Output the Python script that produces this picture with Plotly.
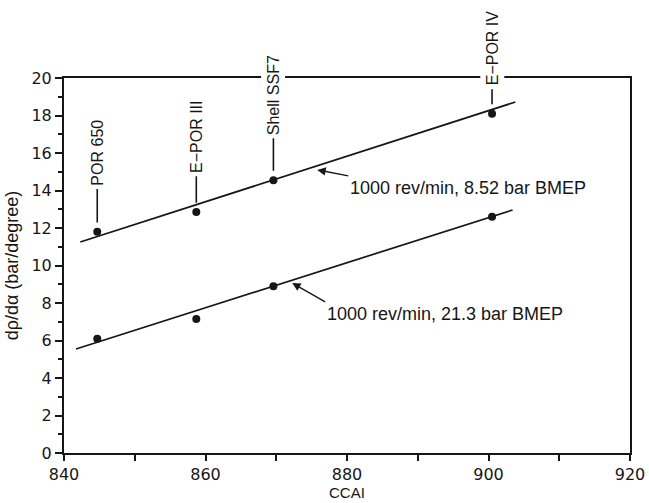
import plotly.graph_objects as go

# Fuel samples plotted against their CCAI value
fuels = ["POR 650", "E−POR III", "Shell SSF7", "E−POR IV"]
ccai = [844.7, 858.7, 869.6, 900.5]

# Peak pressure-rise rate, dp/dα (bar/degree), at the two load points
rate_852 = [11.8, 12.85, 14.55, 18.1]   # 1000 rev/min, 8.52 bar BMEP
rate_213 = [6.1, 7.15, 8.9, 12.6]       # 1000 rev/min, 21.3 bar BMEP

# End points of the fitted straight lines
fit_852_x = [842.3, 903.8]
fit_852_y = [11.25, 18.72]
fit_213_x = [841.7, 903.4]
fit_213_y = [5.55, 12.96]

series_labels = ["1000 rev/min, 8.52 bar BMEP", "1000 rev/min, 21.3 bar BMEP"]

INK = "#161616"
FONT = "Liberation Sans"
TICK_FONT = "DejaVu Sans"

fig = go.Figure()

for fx, fy in [(fit_852_x, fit_852_y), (fit_213_x, fit_213_y)]:
    fig.add_trace(go.Scatter(x=fx, y=fy, mode="lines",
                             line=dict(color=INK, width=1.7),
                             showlegend=False, hoverinfo="skip"))

for ys in [rate_852, rate_213]:
    fig.add_trace(go.Scatter(x=ccai, y=ys, mode="markers",
                             marker=dict(color=INK, size=8),
                             showlegend=False))

# Vertical fuel-name labels with short leader lines above the upper points
leader_gap = 0.5
label_offsets = [-70, -66, -76, -56]
for name, x, y, off in zip(fuels, ccai, rate_852, label_offsets):
    fig.add_annotation(x=x, y=y + leader_gap, text=name, textangle=-90,
                       showarrow=True, arrowhead=0, arrowwidth=1.6,
                       arrowcolor=INK, ax=0, ay=off,
                       bgcolor="white", borderpad=3,
                       font=dict(family=FONT, size=16, color=INK))

# Series labels with arrows pointing at the fitted lines
fig.add_annotation(x=875.8, y=15.1, text=series_labels[0],
                   showarrow=True, arrowhead=2, arrowsize=1.2, arrowwidth=1.4,
                   arrowcolor=INK, ax=31, ay=6,
                   xanchor="left", yanchor="top",
                   font=dict(family=FONT, size=18, color=INK))
fig.add_annotation(x=872.25, y=9.07, text=series_labels[1],
                   showarrow=True, arrowhead=2, arrowsize=1.2, arrowwidth=1.4,
                   arrowcolor=INK, ax=33, ay=19,
                   xanchor="left", yanchor="top",
                   font=dict(family=FONT, size=18, color=INK))

# x-axis title placed just under the tick labels
fig.add_annotation(x=0.5, y=-0.1307, xref="paper", yref="paper",
                   text="CCAI", showarrow=False, borderpad=0,
                   xanchor="center", yanchor="bottom",
                   font=dict(family=FONT, size=15, color=INK))

axis_common = dict(showgrid=False, zeroline=False, showline=True,
                   linecolor=INK, linewidth=2, mirror=True,
                   automargin=False,
                   ticks="outside", tickcolor=INK, tickwidth=1.6,
                   tickfont=dict(family=TICK_FONT, size=16, color=INK))

fig.update_xaxes(range=[840, 920], dtick=20, ticklen=6,
                 minor=dict(dtick=10, ticks="outside", ticklen=6,
                            tickcolor=INK, tickwidth=1.5),
                 **axis_common)
fig.update_yaxes(range=[0, 20], dtick=2, ticklen=7,
                 minor=dict(dtick=1, ticks="outside", ticklen=4,
                            tickcolor=INK, tickwidth=1.5),
                 title=dict(text="dρ/dα (bar/degree)", standoff=8,
                            font=dict(family=FONT, size=18, color=INK)),
                 **axis_common)

fig.update_layout(width=649, height=503,
                  margin=dict(l=64, r=19, t=78, b=50),
                  paper_bgcolor="white", plot_bgcolor="white",
                  showlegend=False)

fig.write_html("out.html")
